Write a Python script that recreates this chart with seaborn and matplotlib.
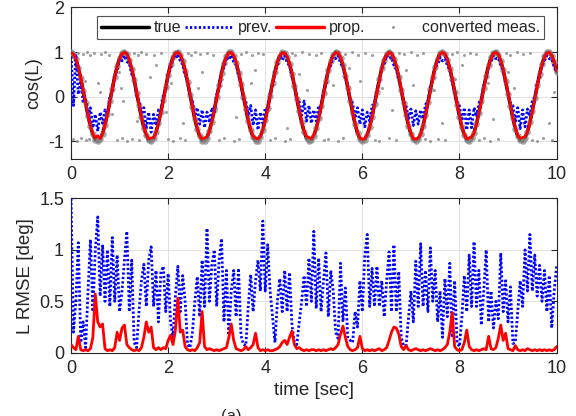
import numpy as np
import matplotlib
matplotlib.use("Agg")
import matplotlib.pyplot as plt
import seaborn as sns
from matplotlib.lines import Line2D

# time axis, 0.05 s sampling
time = np.linspace(0, 10, 201)

# top panel: cos(L)
true_cos = [
    1.00, 0.96, 0.84, 0.65, 0.41, 0.13, -0.15, -0.43, -0.67, -0.85,
    -0.97, -1.00, -0.95, -0.83, -0.63, -0.39, -0.11, 0.18, 0.45, 0.68,
    0.86, 0.97, 1.00, 0.95, 0.81, 0.62, 0.37, 0.09, -0.20, -0.47,
    -0.70, -0.87, -0.98, -1.00, -0.94, -0.80, -0.60, -0.35, -0.07, 0.22,
    0.49, 0.72, 0.88, 0.98, 1.00, 0.93, 0.79, 0.58, 0.33, 0.04,
    -0.24, -0.51, -0.73, -0.89, -0.99, -0.99, -0.92, -0.77, -0.56, -0.30,
    -0.02, 0.26, 0.53, 0.75, 0.90, 0.99, 0.99, 0.91, 0.76, 0.54,
    0.28, 0.00, -0.29, -0.55, -0.76, -0.91, -0.99, -0.99, -0.90, -0.74,
    -0.52, -0.26, 0.02, 0.31, 0.56, 0.78, 0.92, 0.99, 0.98, 0.89,
    0.73, 0.51, 0.24, -0.05, -0.33, -0.58, -0.79, -0.93, -1.00, -0.98,
    -0.88, -0.71, -0.49, -0.22, 0.07, 0.35, 0.60, 0.80, 0.94, 1.00,
    0.98, 0.87, 0.70, 0.47, 0.20, -0.09, -0.37, -0.62, -0.82, -0.95,
    -1.00, -0.97, -0.86, -0.68, -0.45, -0.17, 0.11, 0.39, 0.64, 0.83,
    0.95, 1.00, 0.96, 0.85, 0.67, 0.43, 0.15, -0.14, -0.41, -0.65,
    -0.84, -0.96, -1.00, -0.96, -0.84, -0.65, -0.41, -0.13, 0.16, 0.43,
    0.67, 0.85, 0.97, 1.00, 0.95, 0.83, 0.63, 0.39, 0.11, -0.18,
    -0.45, -0.69, -0.86, -0.97, -1.00, -0.94, -0.81, -0.61, -0.36, -0.09,
    0.20, 0.47, 0.70, 0.88, 0.98, 1.00, 0.94, 0.80, 0.60, 0.34,
    0.06, -0.22, -0.49, -0.72, -0.89, -0.98, -1.00, -0.93, -0.79, -0.58,
    -0.32, -0.04, 0.25, 0.51, 0.73, 0.90, 0.99, 0.99, 0.92, 0.77,
    0.56]

prev_cos = [
    1.00, -0.20, 0.95, 0.05, 0.35, -0.10, -0.05, -0.45, -0.25, -0.70,
    -0.40, -0.78, -0.35, -0.60, -0.30, -0.40, -0.02, 0.12, 0.48, 0.58,
    0.85, 0.80, 0.92, 0.78, 0.75, 0.50, 0.40, 0.02, -0.10, -0.40,
    -0.25, -0.72, -0.35, -0.80, -0.40, -0.65, -0.30, -0.38, 0.02, 0.15,
    0.50, 0.62, 0.86, 0.85, 0.95, 0.80, 0.72, 0.50, 0.35, 0.00,
    -0.10, -0.45, -0.25, -0.62, -0.30, -0.70, -0.35, -0.58, -0.25, -0.35,
    0.05, 0.18, 0.55, 0.65, 0.88, 0.82, 0.93, 0.78, 0.72, 0.48,
    0.30, -0.05, -0.10, -0.45, -0.20, -0.65, -0.30, -0.75, -0.35, -0.60,
    -0.25, -0.30, 0.08, 0.22, 0.58, 0.68, 0.90, 0.82, 0.92, 0.76,
    0.70, 0.45, 0.28, -0.05, -0.12, -0.42, -0.10, -0.55, -0.20, -0.60,
    -0.30, -0.55, -0.20, -0.25, 0.10, 0.28, 0.60, 0.70, 0.90, 0.85,
    0.92, 0.75, 0.66, 0.42, 0.22, -0.10, -0.15, -0.48, -0.25, -0.62,
    -0.30, -0.68, -0.35, -0.55, -0.20, -0.18, 0.15, 0.32, 0.64, 0.72,
    0.92, 0.85, 0.88, 0.70, 0.62, 0.38, 0.18, -0.12, -0.20, -0.50,
    -0.28, -0.65, -0.32, -0.62, -0.30, -0.50, -0.18, -0.12, 0.20, 0.38,
    0.66, 0.72, 0.88, 0.80, 0.85, 0.70, 0.60, 0.35, 0.12, -0.12,
    -0.22, -0.55, -0.25, -0.75, -0.30, -0.70, -0.25, -0.45, -0.15, -0.05,
    0.25, 0.42, 0.70, 0.78, 0.92, 0.85, 0.86, 0.70, 0.58, 0.30,
    0.10, -0.15, -0.20, -0.58, -0.25, -0.72, -0.30, -0.68, -0.28, -0.45,
    -0.10, -0.02, 0.28, 0.45, 0.70, 0.80, 0.92, 0.85, 0.85, 0.65,
    0.55]

prop_cos = [
    0.98, 0.95, 0.85, 0.66, 0.42, 0.14, -0.13, -0.41, -0.65, -0.84,
    -0.93, -0.88, -0.94, -0.84, -0.64, -0.40, -0.12, 0.17, 0.44, 0.67,
    0.85, 0.96, 0.99, 0.96, 0.83, 0.63, 0.39, 0.11, -0.18, -0.45,
    -0.68, -0.85, -0.95, -0.93, -0.92, -0.80, -0.61, -0.36, -0.09, 0.20,
    0.47, 0.70, 0.87, 0.97, 0.99, 0.94, 0.80, 0.60, 0.35, 0.06,
    -0.22, -0.49, -0.71, -0.87, -0.95, -0.93, -0.90, -0.78, -0.57, -0.32,
    -0.04, 0.24, 0.51, 0.73, 0.89, 0.98, 0.99, 0.92, 0.78, 0.56,
    0.30, 0.02, -0.27, -0.53, -0.74, -0.89, -0.93, -0.95, -0.88, -0.75,
    -0.54, -0.28, 0.00, 0.29, 0.54, 0.76, 0.91, 0.98, 0.98, 0.90,
    0.75, 0.53, 0.26, -0.03, -0.31, -0.56, -0.77, -0.90, -0.92, -0.95,
    -0.86, -0.72, -0.50, -0.24, 0.05, 0.33, 0.58, 0.79, 0.93, 0.99,
    0.98, 0.88, 0.71, 0.49, 0.22, -0.07, -0.35, -0.60, -0.80, -0.93,
    -0.96, -0.94, -0.85, -0.69, -0.46, -0.19, 0.09, 0.37, 0.62, 0.82,
    0.94, 0.99, 0.97, 0.86, 0.69, 0.45, 0.17, -0.12, -0.39, -0.63,
    -0.82, -0.94, -0.96, -0.93, -0.85, -0.66, -0.43, -0.15, 0.14, 0.41,
    0.65, 0.84, 0.96, 0.99, 0.96, 0.84, 0.65, 0.41, 0.13, -0.16,
    -0.43, -0.67, -0.84, -0.95, -0.93, -0.90, -0.82, -0.62, -0.38, -0.11,
    0.18, 0.45, 0.68, 0.86, 0.97, 0.99, 0.95, 0.81, 0.62, 0.36,
    0.08, -0.20, -0.47, -0.70, -0.87, -0.94, -0.92, -0.90, -0.80, -0.60,
    -0.34, -0.06, 0.23, 0.49, 0.71, 0.88, 0.98, 0.99, 0.93, 0.79,
    0.58]

# converted measurements that do not sit on the true curve
meas_t = [
    0.15, 0.25, 0.32, 0.40, 0.48, 0.62, 0.70, 0.78, 1.30, 1.38, 1.45, 1.55, 1.70, 1.85,
    2.40, 2.48, 2.55, 2.65, 2.80, 2.92, 3.50, 3.60, 3.72, 3.85, 3.95, 4.55, 4.62, 4.75,
    4.90, 5.05, 5.15, 5.65, 5.78, 5.90, 6.05, 6.20, 6.75, 6.85, 7.00, 7.12, 7.25, 7.85,
    7.95, 8.10, 8.22, 8.35, 8.95, 9.05, 9.18, 9.30, 9.45,
    0.05, 0.12, 0.20, 0.30, 0.38, 0.95, 1.05, 1.15, 1.25, 1.40, 2.00, 2.10, 2.25, 2.35,
    3.05, 3.15, 3.35, 3.45, 4.10, 4.20, 4.40, 4.50, 5.20, 5.30, 5.50, 5.60, 6.25, 6.35,
    6.55, 6.70, 7.30, 7.40, 7.55, 7.70, 8.40, 8.50, 8.62, 8.80, 9.50, 9.60, 9.72, 9.90,
    0.22, 0.28, 0.55, 0.60, 0.85, 0.98, 1.02, 1.08, 1.35, 1.62, 1.75, 1.95, 2.05, 2.30,
    2.62, 2.70, 2.98, 3.10, 3.40, 3.70, 3.78, 4.05, 4.15, 4.45, 4.70, 4.85, 5.10, 5.40,
    5.72, 5.95, 6.15, 6.40, 6.62, 6.90, 7.05, 7.20, 7.48, 7.65, 7.90, 8.05, 8.30, 8.58,
    8.70, 9.00, 9.12, 9.40, 9.65, 9.85, 9.95]
meas_y = [
    0.97, 0.95, 0.99, 0.93, 0.98, 0.96, 1.00, 0.94, 0.98, 0.94, 0.99, 0.96, 0.93, 0.98,
    0.97, 0.93, 0.99, 0.95, 0.98, 0.94, 0.96, 0.99, 0.93, 0.97, 0.95, 0.98, 0.94, 0.99,
    0.96, 0.93, 0.98, 0.95, 0.99, 0.94, 0.97, 0.93, 0.98, 0.95, 0.99, 0.93, 0.97, 0.96,
    0.99, 0.94, 0.98, 0.95, 0.97, 0.93, 0.99, 0.95, 0.98,
    -0.96, -0.99, -0.94, -0.98, -0.95, -0.97, -0.93, -0.99, -0.95, -0.98, -0.96, -0.99, -0.94, -0.97,
    -0.98, -0.94, -0.99, -0.96, -0.97, -0.93, -0.99, -0.95, -0.98, -0.95, -0.99, -0.94, -0.97, -0.99,
    -0.94, -0.98, -0.96, -0.99, -0.95, -0.97, -0.98, -0.94, -0.99, -0.96, -0.97, -0.99, -0.94, -0.98,
    -0.10, 0.35, 0.30, 0.10, -0.40, 0.55, 0.20, -0.10, -0.55, 0.45, 0.70, -0.35, 0.30, -0.60,
    0.20, 0.55, -0.25, 0.40, -0.45, 0.30, 0.60, -0.30, 0.45, -0.70, 0.50, 0.15, -0.40, 0.25,
    0.65, 0.35, -0.55, 0.20, -0.30, 0.60, 0.25, -0.45, 0.15, -0.60, 0.40, 0.70, -0.25, 0.30,
    -0.50, 0.55, 0.20, -0.35, 0.45, -0.60, 0.10]

# bottom panel: L RMSE [deg]
prev_rmse = [
    1.50, 0.20, 0.50, 1.07, 0.10, 0.30, 0.05, 0.60, 1.10, 0.40,
    1.00, 1.32, 0.55, 1.05, 0.50, 1.00, 0.45, 1.12, 0.50, 0.95,
    0.40, 0.60, 0.90, 1.18, 0.40, 0.90, 0.10, 0.05, 0.40, 0.70,
    0.86, 0.45, 0.90, 1.03, 0.45, 0.80, 0.30, 0.78, 0.84, 0.40,
    0.77, 0.30, 0.15, 0.55, 0.84, 0.40, 0.75, 0.50, 0.08, 0.05,
    0.20, 0.50, 0.74, 0.35, 0.90, 0.45, 1.21, 0.50, 0.85, 1.00,
    0.45, 0.90, 1.11, 0.30, 0.80, 0.17, 0.60, 0.80, 0.35, 0.82,
    0.17, 0.08, 0.07, 0.45, 0.76, 0.40, 0.70, 0.90, 0.60, 1.28,
    0.60, 1.05, 0.60, 0.35, 0.10, 0.50, 0.72, 0.40, 0.80, 0.40,
    0.78, 0.27, 0.10, 0.08, 0.30, 0.50, 0.75, 0.45, 0.92, 0.50,
    1.18, 0.43, 0.92, 0.40, 0.70, 0.97, 0.35, 0.80, 0.60, 0.20,
    0.14, 0.87, 0.30, 0.63, 0.14, 0.12, 0.10, 0.40, 0.25, 0.70,
    0.40, 0.95, 1.15, 0.45, 0.82, 0.45, 0.84, 0.45, 0.70, 0.35,
    0.70, 0.98, 0.40, 1.05, 0.40, 0.79, 0.15, 0.07, 0.07, 0.33,
    0.60, 0.30, 0.89, 0.45, 1.06, 0.45, 0.80, 0.40, 1.02, 0.50,
    0.80, 0.30, 0.60, 0.15, 0.72, 0.35, 0.87, 0.15, 0.70, 0.10,
    0.06, 0.35, 0.75, 0.40, 0.95, 0.45, 1.08, 0.45, 0.80, 0.27,
    0.60, 1.00, 0.30, 0.60, 0.24, 0.50, 0.33, 0.97, 0.40, 0.70,
    0.30, 0.64, 0.09, 0.10, 0.40, 0.70, 0.45, 1.00, 0.60, 1.15,
    0.60, 0.95, 0.55, 0.85, 0.50, 0.80, 0.40, 0.75, 0.24, 0.60,
    0.84]

prop_rmse = [
    0.08, 0.05, 0.03, 0.16, 0.03, 0.02, 0.03, 0.02, 0.04, 0.15,
    0.57, 0.30, 0.25, 0.28, 0.04, 0.02, 0.03, 0.02, 0.05, 0.20,
    0.12, 0.24, 0.27, 0.08, 0.05, 0.03, 0.02, 0.03, 0.02, 0.05,
    0.15, 0.30, 0.20, 0.25, 0.05, 0.03, 0.05, 0.03, 0.05, 0.04,
    0.12, 0.17, 0.08, 0.22, 0.53, 0.20, 0.22, 0.06, 0.03, 0.02,
    0.03, 0.02, 0.05, 0.10, 0.40, 0.06, 0.03, 0.04, 0.03, 0.02,
    0.03, 0.02, 0.03, 0.04, 0.05, 0.15, 0.28, 0.12, 0.04, 0.03,
    0.02, 0.03, 0.06, 0.03, 0.05, 0.08, 0.19, 0.05, 0.02, 0.03,
    0.02, 0.03, 0.02, 0.02, 0.03, 0.04, 0.06, 0.10, 0.12, 0.08,
    0.15, 0.21, 0.08, 0.04, 0.05, 0.03, 0.02, 0.03, 0.02, 0.03,
    0.03, 0.02, 0.03, 0.02, 0.03, 0.02, 0.03, 0.04, 0.03, 0.05,
    0.08, 0.18, 0.26, 0.15, 0.06, 0.03, 0.02, 0.03, 0.05, 0.16,
    0.04, 0.02, 0.03, 0.02, 0.03, 0.02, 0.03, 0.04, 0.02, 0.03,
    0.05, 0.12, 0.20, 0.25, 0.24, 0.18, 0.06, 0.03, 0.07, 0.03,
    0.02, 0.03, 0.04, 0.03, 0.02, 0.03, 0.02, 0.03, 0.04, 0.03,
    0.02, 0.03, 0.02, 0.03, 0.05, 0.08, 0.20, 0.39, 0.06, 0.03,
    0.02, 0.03, 0.10, 0.22, 0.06, 0.03, 0.02, 0.03, 0.02, 0.03,
    0.04, 0.03, 0.16, 0.04, 0.03, 0.05, 0.14, 0.27, 0.12, 0.19,
    0.04, 0.03, 0.02, 0.07, 0.03, 0.02, 0.03, 0.02, 0.04, 0.03,
    0.02, 0.03, 0.02, 0.03, 0.02, 0.03, 0.02, 0.03, 0.02, 0.03,
    0.06]

x_ticks = [0, 2, 4, 6, 8, 10]

sns.set_theme(style="ticks")
plt.rcParams["font.family"] = ["Liberation Sans", "DejaVu Sans"]
plt.rcParams["axes.unicode_minus"] = False
plt.rcParams["axes.edgecolor"] = "#262626"
plt.rcParams["xtick.color"] = "#262626"
plt.rcParams["ytick.color"] = "#262626"

blue_dots = (0, (0.8, 0.8))

fig = plt.figure(figsize=(5.76, 4.16), dpi=100)
ax1 = fig.add_axes([0.1233, 0.618, 0.843, 0.364])
ax2 = fig.add_axes([0.1233, 0.152, 0.843, 0.371])

# top panel
sns.lineplot(x=time, y=true_cos, ax=ax1, color="black", lw=2.5, zorder=2)
sns.scatterplot(x=time, y=true_cos, ax=ax1, color="#8a8a8a", s=22, linewidth=0,
                alpha=0.75, zorder=3)
sns.scatterplot(x=meas_t, y=meas_y, ax=ax1, color="#8a8a8a", s=5, linewidth=0,
                alpha=0.8, zorder=3)
sns.lineplot(x=time, y=prev_cos, ax=ax1, color="#0000ff", lw=2.0,
             linestyle=blue_dots, zorder=4)
sns.lineplot(x=time, y=prop_cos, ax=ax1, color="#ff0000", lw=2.0, zorder=5)

ax1.set_xlim(0, 10)
ax1.set_ylim(-1.4, 2)
ax1.set_yticks([-1, 0, 1, 2])
ax1.set_xticks(x_ticks)
ax1.set_ylabel("cos(L)", fontsize=13.5, color="#262626")

handles = [
    Line2D([], [], color="black", lw=2.5),
    Line2D([], [], color="#0000ff", lw=2.0, linestyle=blue_dots),
    Line2D([], [], color="#ff0000", lw=2.5),
    Line2D([], [], color="#8a8a8a", lw=0, marker=".", markersize=2),
]
labels = ["true", "prev.", "prop.", "converted meas."]
leg = ax1.legend(handles, labels, loc="lower left", ncol=4, mode="expand",
                 bbox_to_anchor=(0.053, 0.79, 0.922, 0.165), fontsize=11.5,
                 frameon=True, fancybox=False, edgecolor="#262626",
                 handlelength=3.0, handletextpad=0.3, columnspacing=0.6,
                 borderpad=0.25, borderaxespad=0)
leg.get_frame().set_linewidth(0.8)

# bottom panel
sns.lineplot(x=time, y=prev_rmse, ax=ax2, color="#0000ff", lw=2.0,
             linestyle=blue_dots, zorder=3)
sns.lineplot(x=time, y=prop_rmse, ax=ax2, color="#ff0000", lw=2.0, zorder=4)

ax2.set_xlim(0, 10)
ax2.set_ylim(0, 1.5)
ax2.set_yticks([0, 0.5, 1, 1.5])
ax2.set_yticklabels(["0", "0.5", "1", "1.5"])
ax2.set_xticks(x_ticks)
ax2.set_ylabel("L RMSE [deg]", fontsize=13.5, color="#262626")
ax2.set_xlabel("time [sec]", fontsize=13.5, color="#262626")

for ax in (ax1, ax2):
    ax.grid(True, color="#dcdcdc", lw=0.6)
    ax.set_axisbelow(True)
    ax.tick_params(direction="in", length=4, width=0.8, top=True, right=True,
                   labelsize=13, pad=5)
    for sp in ax.spines.values():
        sp.set_visible(True)
        sp.set_linewidth(0.8)

# panel tag, cut off by the lower edge as in the original figure
fig.text(0.383, 1 - 409 / 416, "(a)", va="top", ha="left", fontsize=12,
         color="#262626")

fig.savefig("out.png", dpi=100)
